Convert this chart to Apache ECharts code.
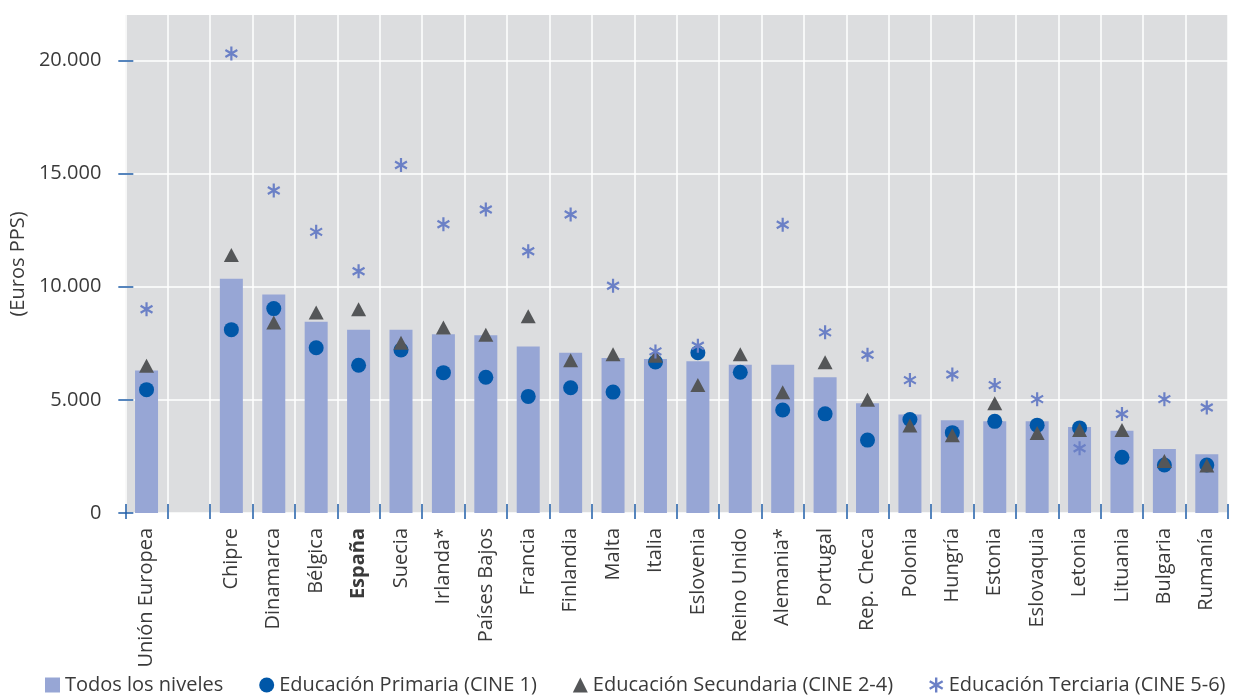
<!DOCTYPE html>
<html><head><meta charset="utf-8">
<script src="https://cdn.jsdelivr.net/npm/echarts@6/dist/echarts.min.js"></script>
<style>html,body{margin:0;padding:0;background:#fff}#c{width:1233px;height:695px}</style>
</head><body><div id="c"></div>
<script>
const categories = ['Unión Europea','','Chipre','Dinamarca','Bélgica','España','Suecia','Irlanda*','Países Bajos','Francia','Finlandia','Malta','Italia','Eslovenia','Reino Unido','Alemania*','Portugal','Rep. Checa','Polonia','Hungría','Estonia','Eslovaquia','Letonia','Lituania','Bulgaria','Rumanía'];
const todos = [6300,null,10350,9650,8450,8100,8100,7900,7850,7350,7080,6850,6800,6700,6550,6550,6000,4850,4350,4100,4050,4050,3800,3630,2830,2600];
const primaria = [5450,null,8100,9030,7300,6530,7200,6200,6000,5150,5530,5340,6670,7080,6220,4550,4380,3220,4130,3550,4050,3880,3760,2460,2120,2120];
const secundaria = [6500,null,11400,8420,8860,9000,7520,8200,7880,8690,6750,7010,6950,5650,7010,5330,6660,5000,3870,3430,4850,3530,3670,3670,2300,2100];
const terciaria = [9000,null,20300,14250,12420,10680,15370,12760,13410,11560,13190,10040,7140,7390,null,12730,7980,6990,5870,6120,5650,5030,2860,4370,5030,4660];
const yTicks = [0,5000,10000,15000,20000];
const names = ['Todos los niveles','Educación Primaria (CINE 1)','Educación Secundaria (CINE 2-4)','Educación Terciaria (CINE 5-6)'];

const ast = 'path://M42 0L58 0L58 100L42 100Z M2.7 31.93L10.7 18.07L97.3 68.07L89.3 81.93Z M10.7 81.93L2.7 68.07L89.3 18.07L97.3 31.93Z';
const FONT = 'Open Sans';
const TXT = '#3a3a3a';
const TICK = '#1f5ea8';

const chart = echarts.init(document.getElementById('c'));
chart.setOption({
  animation: false,
  textStyle: {fontFamily: FONT},
  grid: {left: 124, right: 5, top: 15, bottom: 182, show: true, backgroundColor: '#dcdddf', borderWidth: 0},
  legend: {
    left: 45, top: 675, padding: 0, itemGap: 36, itemWidth: 15, itemHeight: 15,
    textStyle: {fontFamily: FONT, fontSize: 20, color: TXT},
    data: [
      {name: names[0], icon: 'rect'},
      {name: names[1], icon: 'circle'},
      {name: names[2], icon: 'triangle'},
      {name: names[3], icon: ast}
    ]
  },
  xAxis: {
    type: 'category', data: categories, position: 'bottom', offset: -9,
    axisLine: {show: false},
    axisTick: {show: true, interval: 0, length: 15, lineStyle: {color: TICK, width: 1.5}},
    splitLine: {show: true, interval: 0, lineStyle: {color: '#ffffff', width: 1.5}},
    axisLabel: {
      interval: 0, rotate: 90, margin: 24, fontSize: 20, color: TXT, fontFamily: FONT,
      formatter: v => v === 'España' ? '{b|' + v + '}' : v,
      rich: {b: {fontWeight: 'bold', fontSize: 20, color: TXT, fontFamily: FONT}}
    }
  },
  yAxis: {
    type: 'value', min: 0, max: 22000, position: 'left', offset: -8,
    name: '(Euros PPS)', nameLocation: 'middle', nameGap: 100, nameRotate: 90,
    nameTextStyle: {fontSize: 20, color: TXT, fontFamily: FONT},
    axisLine: {show: false},
    axisTick: {show: true, length: 15, customValues: yTicks, lineStyle: {color: TICK, width: 1.5}},
    splitLine: {show: true, lineStyle: {color: '#ffffff', width: 1.5}},
    axisLabel: {
      customValues: yTicks, margin: 32, fontSize: 20, color: TXT, fontFamily: FONT,
      formatter: v => String(v).replace(/\B(?=(\d{3})+(?!\d))/g, '.')
    }
  },
  series: [
    {name: names[0], type: 'bar', data: todos, barWidth: 23, itemStyle: {color: '#97a6d5'}, z: 2},
    {name: names[1], type: 'scatter', data: primaria, symbol: 'circle', symbolSize: 15, itemStyle: {color: '#0057a8', opacity: 1}, z: 3},
    {name: names[2], type: 'scatter', data: secundaria, symbol: 'triangle', symbolSize: [15, 14], itemStyle: {color: '#545658', opacity: 1}, z: 4},
    {name: names[3], type: 'scatter', data: terciaria, symbol: ast, symbolSize: [13, 14], itemStyle: {color: '#6b80c6', opacity: 1}, z: 5}
  ]
});
</script></body></html>
